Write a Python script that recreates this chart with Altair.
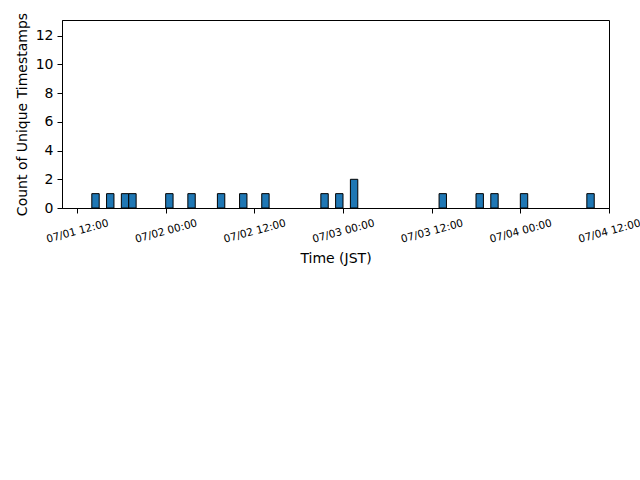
import altair as alt
import pandas as pd
from datetime import datetime, timedelta

# hourly bins (UTC-encoded wall-clock JST times) and their counts
bin_starts = [
    "2024-07-01 14:00", "2024-07-01 16:00", "2024-07-01 18:00", "2024-07-01 19:00",
    "2024-07-02 00:00", "2024-07-02 03:00", "2024-07-02 07:00", "2024-07-02 10:00",
    "2024-07-02 13:00", "2024-07-02 21:00", "2024-07-02 23:00", "2024-07-03 01:00",
    "2024-07-03 13:00", "2024-07-03 18:00", "2024-07-03 20:00", "2024-07-04 00:00",
    "2024-07-04 09:00",
]
counts = [1, 1, 1, 1, 1, 1, 1, 1, 1, 1, 1, 2, 1, 1, 1, 1, 1]
tick_times = [
    (2024, 7, 1, 12), (2024, 7, 2, 0), (2024, 7, 2, 12), (2024, 7, 3, 0),
    (2024, 7, 3, 12), (2024, 7, 4, 0), (2024, 7, 4, 12),
]

starts = [datetime.strptime(s, "%Y-%m-%d %H:%M") for s in bin_starts]
df = pd.DataFrame({
    "start": [d.strftime("%Y-%m-%dT%H:%M:%SZ") for d in starts],
    "end": [(d + timedelta(hours=1)).strftime("%Y-%m-%dT%H:%M:%SZ") for d in starts],
    "count": counts,
})

tick_vals = [alt.DateTime(year=y, month=m, date=d, hours=h, utc=True) for (y, m, d, h) in tick_times]
dom = [alt.DateTime(year=2024, month=7, date=1, hours=9, minutes=58, utc=True),
       alt.DateTime(year=2024, month=7, date=4, hours=12, utc=True)]

chart = alt.Chart(df).mark_bar(
    color="#1f77b4", stroke="black", strokeWidth=1
).encode(
    x=alt.X("start:T", title="Time (JST)",
            scale=alt.Scale(type="utc", domain=dom),
            axis=alt.Axis(values=tick_vals,
                          labelExpr="utcFormat(datum.value, '%m/%d %H:%M')",
                          labelAngle=-15, labelAlign="center", labelBaseline="middle",
                          labelFontSize=10.5, labelPadding=18, titlePadding=7)),
    x2="end:T",
    y=alt.Y("count:Q", title="Count of Unique Timestamps",
            scale=alt.Scale(domain=[0, 13.1], nice=False, zero=True),
            axis=alt.Axis(values=[0, 2, 4, 6, 8, 10, 12], labelFontSize=14,
                          labelPadding=4, titlePadding=6)),
    y2=alt.datum(0),
).properties(
    width=547, height=188,
    autosize=alt.AutoSizeParams(type="none"),
    padding={"left": 62, "top": 20, "right": 31, "bottom": 272},
).configure_axis(
    grid=False, domainColor="black", tickColor="black", tickSize=5,
    labelColor="black", titleColor="black", labelFont="DejaVu Sans",
    titleFont="DejaVu Sans", titleFontWeight="normal", titleFontSize=14,
).configure_view(stroke="black", strokeWidth=1)

chart.save("out.html", embed_options={"renderer": "svg", "actions": False})
